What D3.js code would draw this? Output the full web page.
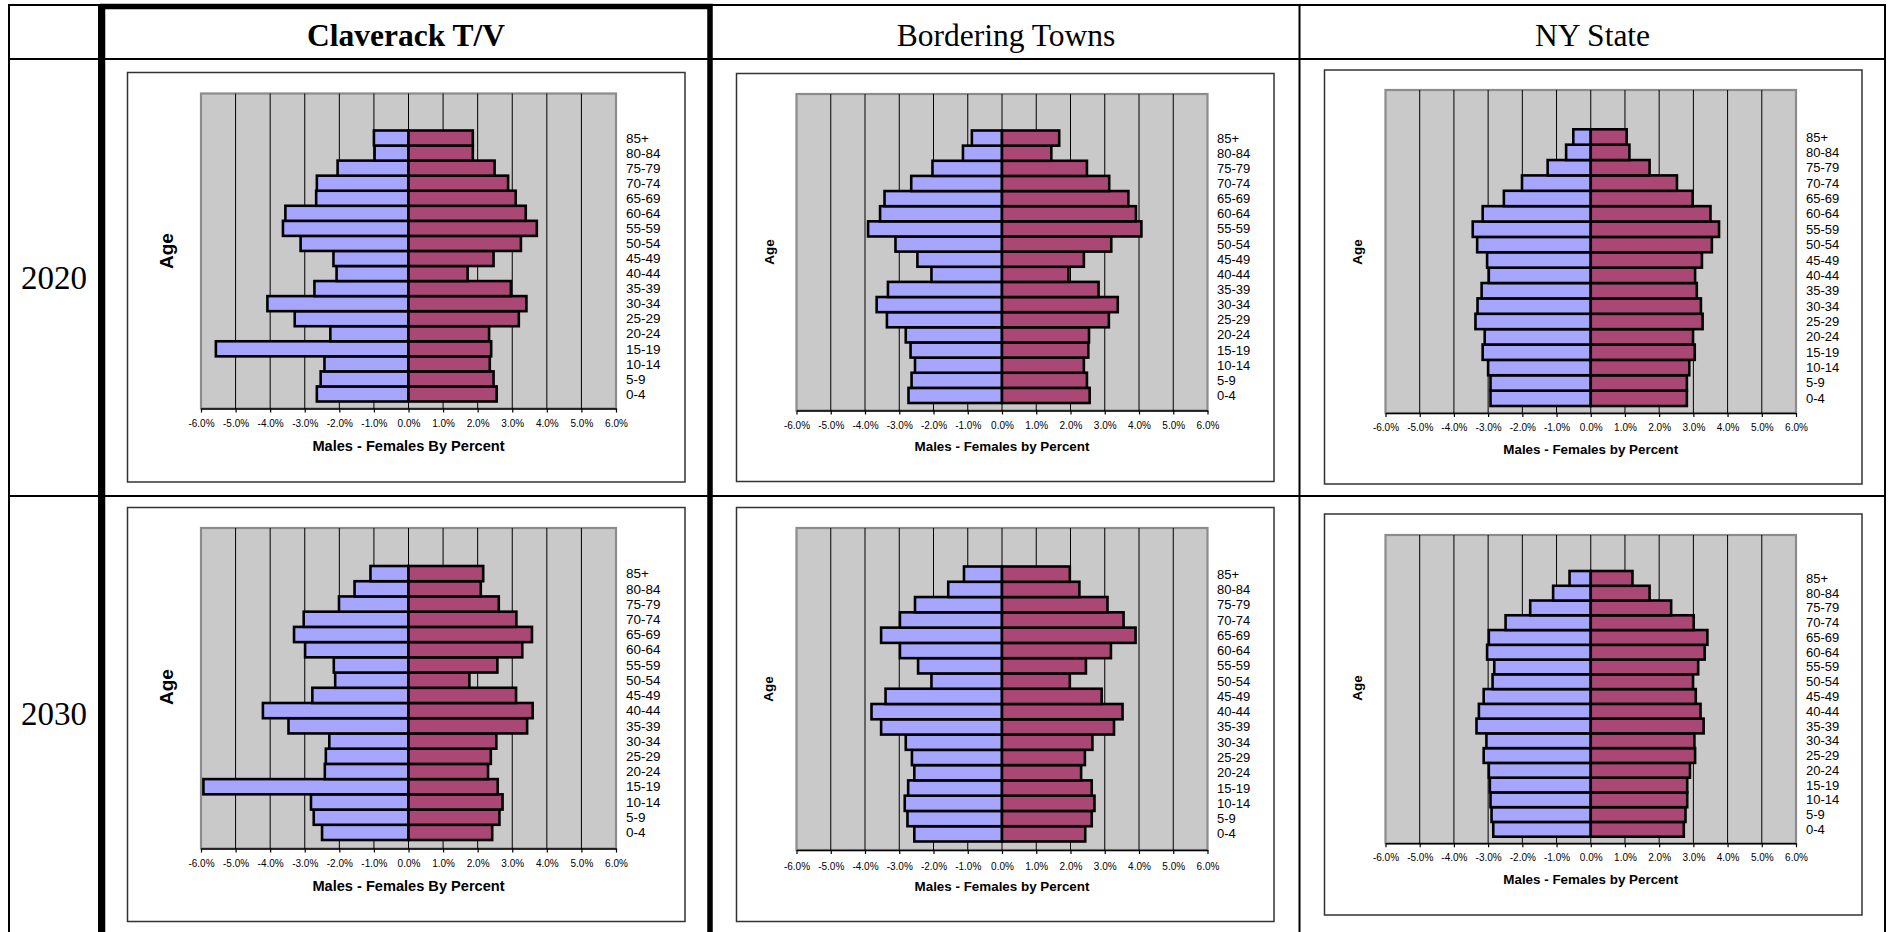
<!DOCTYPE html>
<html lang="en">
<head>
<meta charset="UTF-8">
<title>Population Pyramids</title>
<script src="https://cdn.jsdelivr.net/npm/d3@7"></script>
<style>
    body {
        margin: 0;
        background: #fff;
    }

    svg {
        display: block;
    }
</style>
</head>
<body>
<script>
    // age groups, youngest first (drawn bottom to top)
    const ages = ["0-4", "5-9", "10-14", "15-19", "20-24", "25-29", "30-34", "35-39", "40-44",
        "45-49", "50-54", "55-59", "60-64", "65-69", "70-74", "75-79", "80-84", "85+"];
    const xTicks = [-6, -5, -4, -3, -2, -1, 0, 1, 2, 3, 4, 5, 6];
    const columnTitles = ["Claverack T/V", "Bordering Towns", "NY State"];
    const rowTitles = ["2020", "2030"];

    // percent of population, same order as ages
    const claverack2020Male = [2.65, 2.54, 2.43, 5.57, 2.26, 3.29, 4.08, 2.72, 2.08, 2.17, 3.12, 3.63, 3.56, 2.67, 2.65, 2.05, 0.98, 1.00];
    const claverack2020Female = [2.55, 2.46, 2.35, 2.39, 2.33, 3.19, 3.41, 2.96, 1.71, 2.46, 3.25, 3.71, 3.39, 3.10, 2.88, 2.49, 1.86, 1.86];
    const bordering2020Male = [2.73, 2.64, 2.54, 2.67, 2.81, 3.36, 3.66, 3.33, 2.06, 2.47, 3.11, 3.91, 3.56, 3.43, 2.65, 2.03, 1.14, 0.88];
    const bordering2020Female = [2.56, 2.48, 2.39, 2.52, 2.54, 3.12, 3.38, 2.82, 1.94, 2.39, 3.19, 4.07, 3.91, 3.69, 3.13, 2.48, 1.44, 1.67];
    const ny2020Male = [2.93, 2.93, 3.00, 3.16, 3.10, 3.37, 3.31, 3.19, 2.98, 3.03, 3.32, 3.45, 3.16, 2.54, 2.01, 1.26, 0.72, 0.51];
    const ny2020Female = [2.81, 2.81, 2.88, 3.04, 2.99, 3.27, 3.22, 3.10, 3.05, 3.25, 3.54, 3.75, 3.50, 2.98, 2.52, 1.72, 1.13, 1.05];
    const claverack2030Male = [2.50, 2.74, 2.82, 5.93, 2.42, 2.39, 2.29, 3.47, 4.21, 2.78, 2.12, 2.16, 2.99, 3.31, 3.03, 2.01, 1.56, 1.10];
    const claverack2030Female = [2.42, 2.63, 2.72, 2.58, 2.30, 2.38, 2.54, 3.43, 3.59, 3.11, 1.76, 2.57, 3.29, 3.57, 3.12, 2.61, 2.09, 2.16];
    const bordering2030Male = [2.56, 2.76, 2.84, 2.74, 2.56, 2.63, 2.81, 3.53, 3.81, 3.40, 2.06, 2.45, 2.98, 3.53, 2.98, 2.54, 1.57, 1.11];
    const bordering2030Female = [2.43, 2.62, 2.70, 2.62, 2.31, 2.42, 2.64, 3.27, 3.52, 2.91, 1.98, 2.45, 3.18, 3.90, 3.55, 3.08, 2.26, 1.98];
    const ny2030Male = [2.85, 2.90, 2.93, 2.95, 2.98, 3.13, 3.05, 3.34, 3.27, 3.13, 2.87, 2.82, 3.03, 2.98, 2.49, 1.77, 1.10, 0.62];
    const ny2030Female = [2.72, 2.77, 2.82, 2.82, 2.90, 3.05, 3.03, 3.30, 3.21, 3.07, 2.99, 3.14, 3.33, 3.41, 3.01, 2.35, 1.72, 1.22];

    const width = 1893;
    const height = 932;
    const MALE = "#a6a6ff";
    const FEMALE = "#aa4775";
    const sans = "'Liberation Sans', Arial, sans-serif";
    const serif = "'Liberation Serif', 'Times New Roman', serif";

    const fmt = d3.formatLocale({ decimal: ".", thousands: ",", grouping: [3], currency: ["$", ""], minus: "-" }).format(".1f");

    // where each chart sits in the page
    const charts = [
        {
            male: claverack2020Male, female: claverack2020Female, xTitle: "Males - Females By Percent",
            box: [127.5, 72.5, 685, 482], plot: [201, 93.5, 616, 408.5], bars: [130.5, 401.5],
            labelX: 626, tickY: 423, titleY: 446, age: [166, 251], ageSize: 19, labelSize: 13.5, titleSize: 14.6
        },
        {
            male: bordering2020Male, female: bordering2020Female, xTitle: "Males - Females by Percent",
            box: [736.5, 73.5, 1274, 481.5], plot: [796.5, 94, 1207.5, 410.5], bars: [130.5, 403],
            labelX: 1217, tickY: 425, titleY: 446, age: [769, 252], ageSize: 13.5, labelSize: 13, titleSize: 13.4
        },
        {
            male: ny2020Male, female: ny2020Female, xTitle: "Males - Females by Percent",
            box: [1324.5, 70, 1862, 484], plot: [1385.5, 90, 1796, 413], bars: [129.3, 406],
            labelX: 1806, tickY: 427.5, titleY: 449, age: [1357, 252], ageSize: 13.5, labelSize: 13, titleSize: 13.4
        },
        {
            male: claverack2030Male, female: claverack2030Female, xTitle: "Males - Females By Percent",
            box: [127.5, 507.5, 685, 921.5], plot: [201, 528, 616, 848.5], bars: [566, 840],
            labelX: 626, tickY: 863, titleY: 886, age: [166, 687], ageSize: 19, labelSize: 13.5, titleSize: 14.6
        },
        {
            male: bordering2030Male, female: bordering2030Female, xTitle: "Males - Females by Percent",
            box: [736.5, 507.5, 1274, 921.5], plot: [796.5, 528, 1207.5, 850], bars: [566.5, 841.5],
            labelX: 1217, tickY: 866, titleY: 886, age: [768, 689], ageSize: 13.5, labelSize: 13, titleSize: 13.4
        },
        {
            male: ny2030Male, female: ny2030Female, xTitle: "Males - Females by Percent",
            box: [1324.5, 514, 1862, 915], plot: [1385.5, 535, 1796, 843.3], bars: [571, 836.7],
            labelX: 1806, tickY: 857.5, titleY: 879, age: [1357, 688], ageSize: 13.5, labelSize: 13, titleSize: 13.4
        }
    ];

    const svg = d3.select("body").append("svg").attr("width", width).attr("height", height);

    // ---- the table around the charts ----
    const table = svg.append("g").attr("stroke", "#000").attr("fill", "none");
    const hLine = (y, w) => table.append("line").attr("x1", 8).attr("x2", 1886).attr("y1", y).attr("y2", y).attr("stroke-width", w);
    const vLine = (x, w) => table.append("line").attr("x1", x).attr("x2", x).attr("y1", 4).attr("y2", height).attr("stroke-width", w);
    hLine(5, 2);
    hLine(59, 2);
    hLine(496, 2);
    vLine(9, 2);
    vLine(99, 2);
    vLine(1299.5, 2);
    vLine(1885, 2);
    // thick frame round the Claverack column
    table.append("path")
        .attr("d", `M102.5,${height} V6.5 H710 V${height}`)
        .attr("stroke-width", 5.5);

    const colCenters = [406, 1006, 1592.5];
    svg.selectAll("text.col-title")
        .data(columnTitles)
        .join("text")
        .attr("class", "col-title")
        .attr("x", (d, i) => colCenters[i])
        .attr("y", 46)
        .attr("text-anchor", "middle")
        .attr("font-family", serif)
        .attr("font-size", 31.5)
        .attr("font-weight", (d, i) => i === 0 ? "bold" : "normal")
        .text(d => d);

    const rowBaselines = [288.5, 725];
    svg.selectAll("text.row-title")
        .data(rowTitles)
        .join("text")
        .attr("class", "row-title")
        .attr("x", 54)
        .attr("y", (d, i) => rowBaselines[i])
        .attr("text-anchor", "middle")
        .attr("font-family", serif)
        .attr("font-size", 33)
        .text(d => d);

    // ---- one pyramid ----
    const drawChart = (c) => {
        const g = svg.append("g");
        const [px0, py0, px1, py1] = c.plot;

        const x = d3.scaleLinear().domain([-6, 6]).range([px0, px1]);
        const y = d3.scaleBand().domain(ages).range([c.bars[1], c.bars[0]]).padding(0);

        g.append("rect")
            .attr("x", c.box[0]).attr("y", c.box[1])
            .attr("width", c.box[2] - c.box[0]).attr("height", c.box[3] - c.box[1])
            .attr("fill", "#fff").attr("stroke", "#333").attr("stroke-width", 1.5);

        g.append("rect")
            .attr("x", px0).attr("y", py0)
            .attr("width", px1 - px0).attr("height", py1 - py0)
            .attr("fill", "#c9c9c9").attr("stroke", "#8c8c8c").attr("stroke-width", 2.2);

        g.selectAll("line.grid")
            .data(xTicks.slice(1, -1))
            .join("line")
            .attr("class", "grid")
            .attr("x1", d => x(d)).attr("x2", d => x(d))
            .attr("y1", py0).attr("y2", py1)
            .attr("stroke", "#000").attr("stroke-width", 1);

        const rows = ages.map((a, i) => ({ age: a, male: c.male[i], female: c.female[i] }));

        g.selectAll("rect.male")
            .data(rows)
            .join("rect")
            .attr("class", "male")
            .attr("x", d => x(-d.male))
            .attr("width", d => x(0) - x(-d.male))
            .attr("y", d => y(d.age))
            .attr("height", y.bandwidth())
            .attr("fill", MALE).attr("stroke", "#000").attr("stroke-width", 2.6);

        g.selectAll("rect.female")
            .data(rows)
            .join("rect")
            .attr("class", "female")
            .attr("x", x(0))
            .attr("width", d => x(d.female) - x(0))
            .attr("y", d => y(d.age))
            .attr("height", y.bandwidth())
            .attr("fill", FEMALE).attr("stroke", "#000").attr("stroke-width", 2.6);

        const axis = g.append("g")
            .attr("transform", `translate(0,${py1})`)
            .call(d3.axisBottom(x).tickValues(xTicks).tickSize(4).tickSizeOuter(0).tickFormat(d => fmt(d) + "%"));
        axis.select(".domain").attr("stroke", "#000").attr("stroke-width", 1.6);
        axis.selectAll(".tick line").attr("stroke", "#000").attr("stroke-width", 1.2);
        axis.selectAll(".tick text")
            .attr("y", c.tickY - py1)
            .attr("dy", "0.35em")
            .attr("fill", "#000")
            .attr("font-family", sans)
            .attr("font-size", 10);

        g.selectAll("text.age-label")
            .data(rows)
            .join("text")
            .attr("class", "age-label")
            .attr("x", c.labelX)
            .attr("y", d => y(d.age) + y.bandwidth() / 2)
            .attr("dy", "0.35em")
            .attr("font-family", sans)
            .attr("font-size", c.labelSize)
            .text(d => d.age);

        g.append("text")
            .attr("x", x(0))
            .attr("y", c.titleY)
            .attr("dy", "0.35em")
            .attr("text-anchor", "middle")
            .attr("font-family", sans)
            .attr("font-weight", "bold")
            .attr("font-size", c.titleSize)
            .text(c.xTitle);

        g.append("text")
            .attr("transform", `translate(${c.age[0]},${c.age[1]}) rotate(-90)`)
            .attr("dy", "0.35em")
            .attr("text-anchor", "middle")
            .attr("font-family", sans)
            .attr("font-weight", "bold")
            .attr("font-size", c.ageSize)
            .text("Age");
    }

    charts.forEach(drawChart);
</script>
</body>
</html>
